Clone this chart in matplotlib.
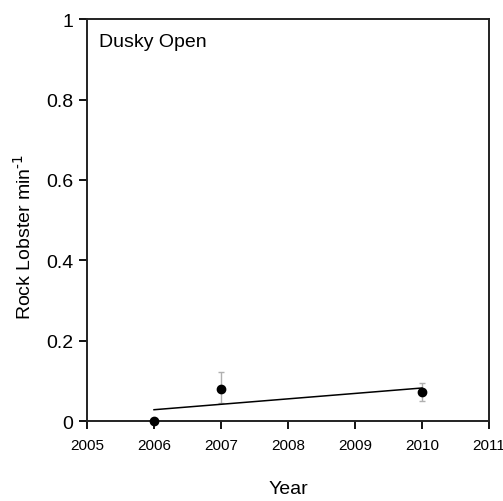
import numpy as np
import matplotlib.pyplot as plt

plt.rcParams['font.family'] = ['Liberation Sans', 'DejaVu Sans']
plt.rcParams['mathtext.default'] = 'regular'

# Mean rock lobster per minute with error bars
years = [2006, 2007, 2010]
rate = [0.0, 0.08, 0.073]
err_lo = [0.0, 0.035, 0.023]
err_hi = [0.0, 0.042, 0.021]

x_ticks = [2005, 2006, 2007, 2008, 2009, 2010, 2011]
y_ticks = [0, 0.2, 0.4, 0.6, 0.8, 1]
y_tick_labels = ['0', '0.2', '0.4', '0.6', '0.8', '1']

fig = plt.figure(figsize=(5.03, 5.02), dpi=100)
ax = fig.add_axes([0.173, 0.159, 0.799, 0.801])

ax.errorbar(years, rate, yerr=[err_lo, err_hi], fmt='none', ecolor='#b0b0b0',
            elinewidth=1, capsize=2.5, capthick=1, zorder=2)
ax.plot(years, rate, 'o', color='black', markersize=6, zorder=4, clip_on=False)

# linear trend through the yearly means
slope, intercept = np.polyfit(years, rate, 1)
xl = np.array([years[0], years[-1]])
ax.plot(xl, slope * xl + intercept, color='black', lw=1.1, zorder=3)

ax.set_xlim(2005, 2011)
ax.set_ylim(0, 1)
ax.set_xticks(x_ticks)
ax.set_yticks(y_ticks)
ax.set_yticklabels(y_tick_labels)
ax.tick_params(axis='x', labelsize=11, direction='out', length=6, width=1.3, pad=6)
ax.tick_params(axis='y', labelsize=14, direction='out', length=6, width=1.3, pad=4)
for s in ax.spines.values():
    s.set_linewidth(1.4)
    s.set_color('#222222')

ax.text(0.03, 0.965, 'Dusky Open', transform=ax.transAxes, fontsize=14,
        va='top', ha='left')
ax.set_xlabel('Year', fontsize=14, labelpad=20)
ax.set_ylabel('Rock Lobster min$^{\\text{-1}}$', fontsize=14)
ax.yaxis.set_label_coords(-0.13, 0.46)

fig.savefig('out.png', dpi=100)
